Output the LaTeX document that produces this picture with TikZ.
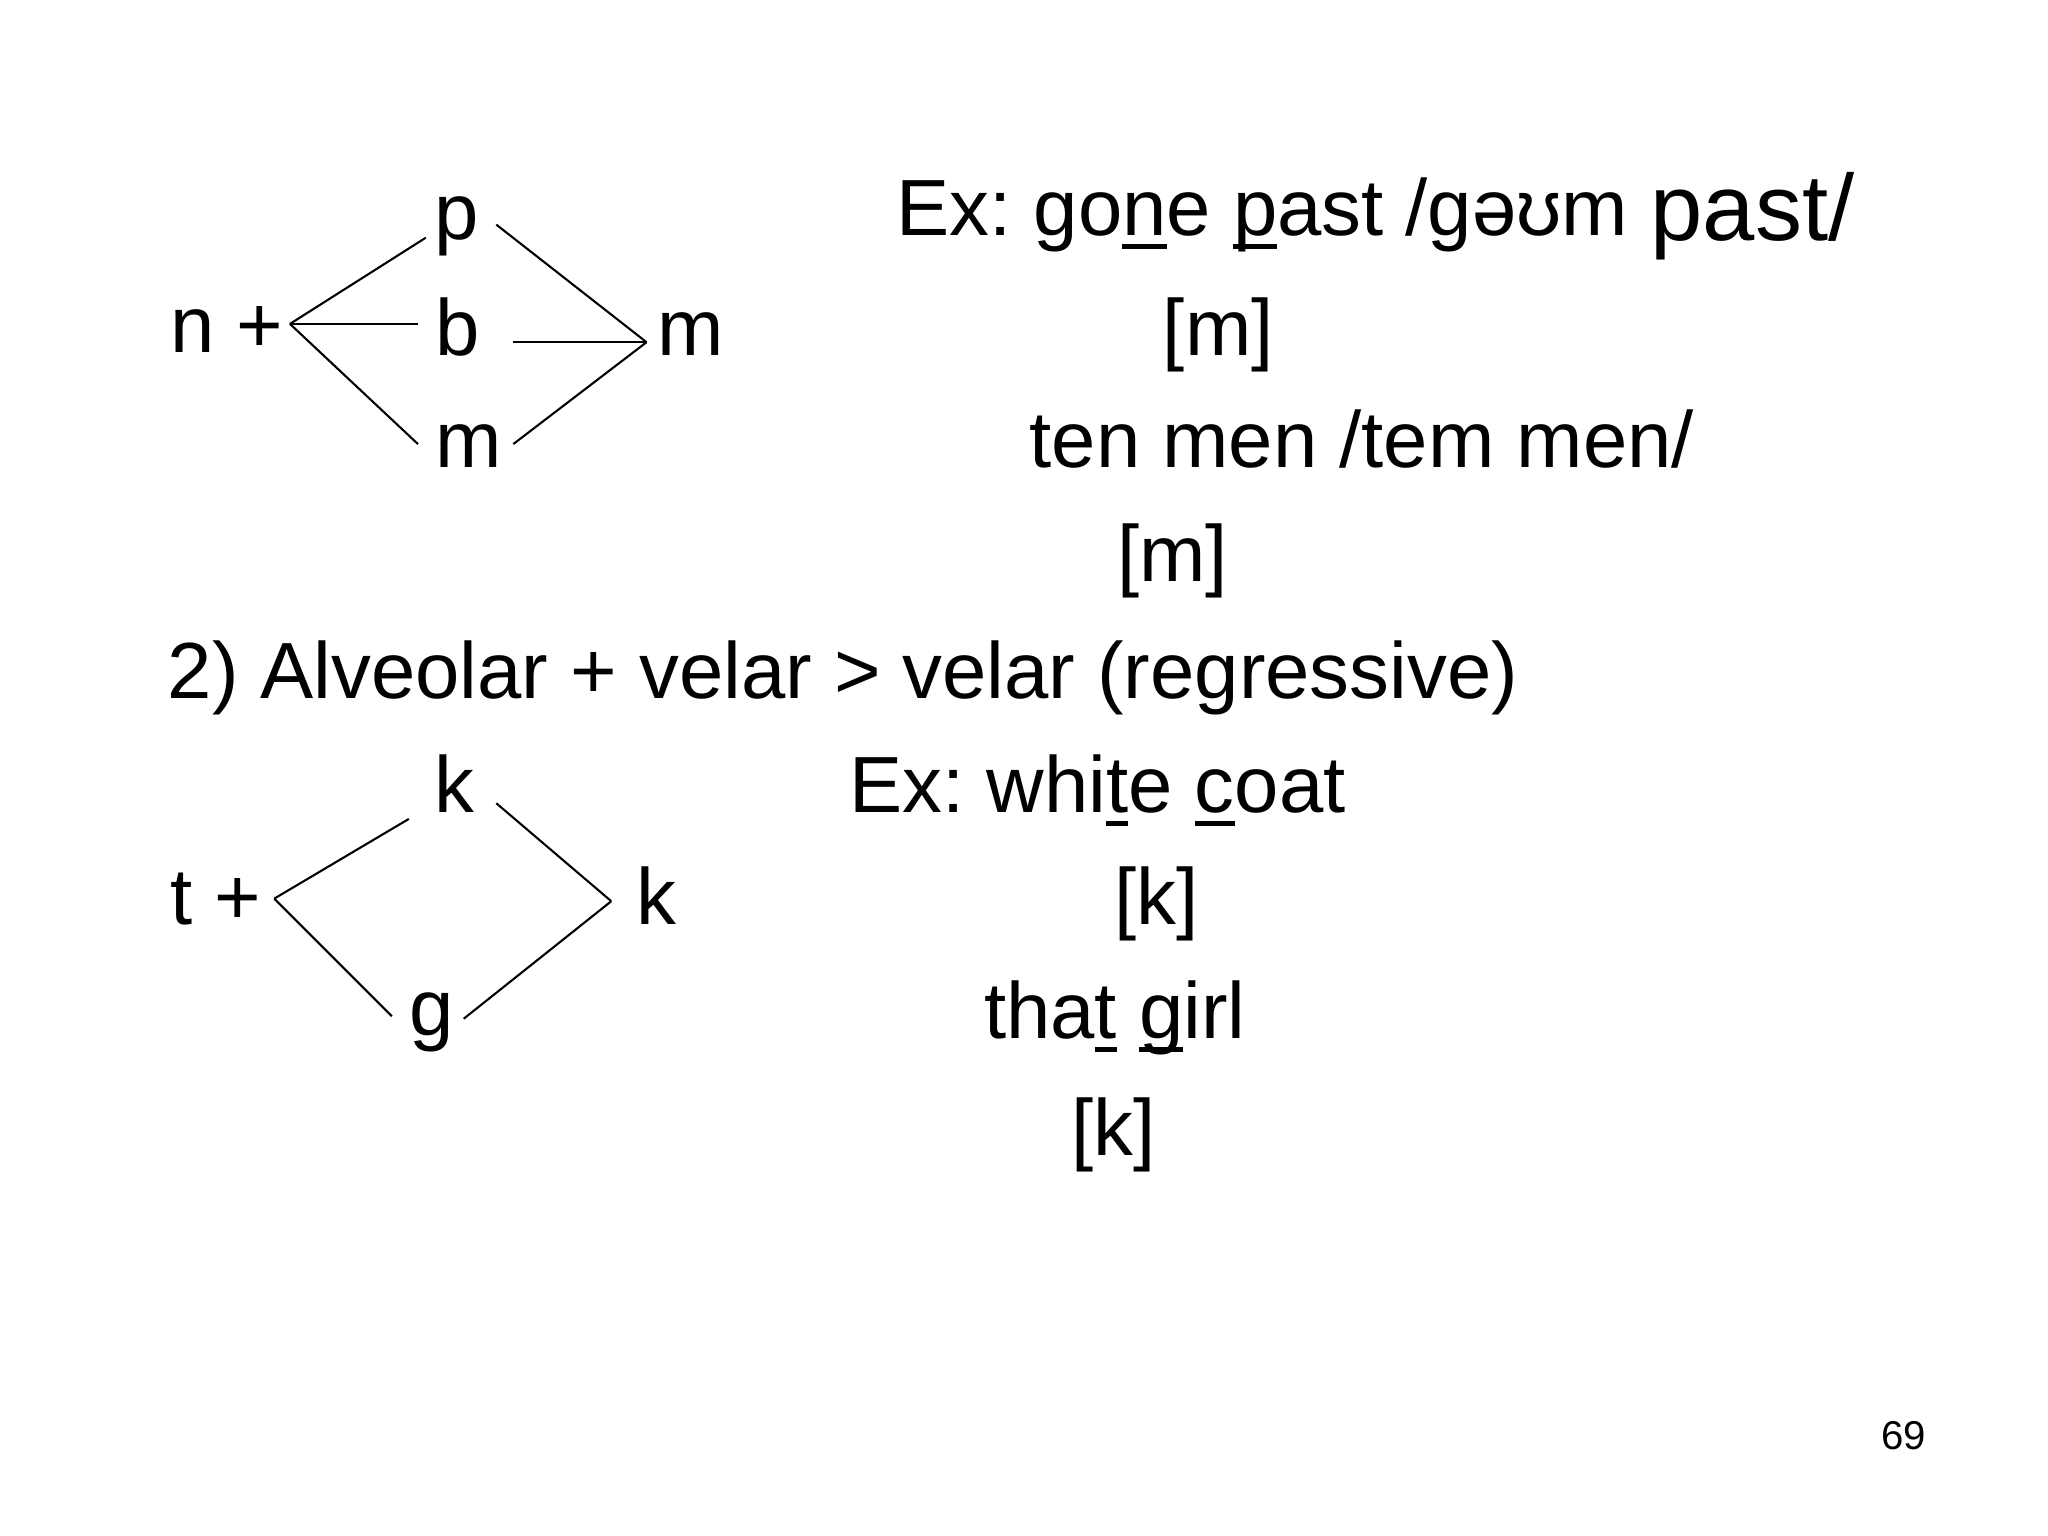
\documentclass[tikz,border=0pt]{standalone}
\usepackage{fontspec}
\setmainfont{Liberation Sans}
\frenchspacing
\newsavebox\ulbox
\newcommand\undl[1]{\sbox\ulbox{#1}\rlap{\rule[-0.17em]{\wd\ulbox}{0.06em}}\usebox\ulbox}
\tikzset{
  txt/.style={anchor=base west, inner sep=0pt, font=\fontsize{30.5}{36}\selectfont},
  small/.style={anchor=base west, inner sep=0pt, font=\fontsize{15.4}{18}\selectfont},
  link/.style={line width=0.8pt}
}
\begin{document}
\begin{tikzpicture}[x=0.5pt,y=-0.5pt]
\useasboundingbox[fill=white] (0,0) rectangle (1568,1176);
% ---- upper diagram
\node[txt] (np) at (130,270) {n +};
\node[txt] (p) at (332,183) {p};
\node[txt] (b) at (333,272) {b};
\node[txt] (m1) at (333,358) {m};
\node[txt] (m2) at (503,272) {m};
\coordinate (jl) at (222,248);
\coordinate (jr) at (495,262);
\coordinate (pin) at (326,182);
\coordinate (bin) at (320,248);
\coordinate (min) at (320,340);
\coordinate (pout) at (380,172);
\coordinate (bout) at (393,262);
\coordinate (mout) at (393,340);
\draw[link] (jl) -- (pin);
\draw[link] (jl) -- (bin);
\draw[link] (jl) -- (min);
\draw[link] (pout) -- (jr);
\draw[link] (bout) -- (jr);
\draw[link] (mout) -- (jr);
% ---- examples
\node[txt] (ex1) at (686,180) {Ex: go\undl{n}e \undl{p}ast /gəʊm \raisebox{-2pt}{\fontsize{36}{40}\selectfont past/}};
\node[txt] (r1) at (890,272) {[m]};
\node[txt] (ex2) at (788,358) {ten men /tem men/};
\node[txt] (r2) at (855,445) {[m]};
\node[txt] (head) at (128,535) {2) Alveolar + velar > velar (regressive)};
% ---- lower diagram
\node[txt] (tp) at (130,708) {t +};
\node[txt] (k1) at (332,622) {k};
\node[txt] (g) at (313,793) {g};
\node[txt] (k2) at (487,708) {k};
\coordinate (jl2) at (210,688);
\coordinate (jr2) at (468,690);
\coordinate (kin) at (313,627);
\coordinate (gin) at (300,778);
\coordinate (kout) at (380,615);
\coordinate (gout) at (355,780);
\draw[link] (jl2) -- (kin);
\draw[link] (jl2) -- (gin);
\draw[link] (kout) -- (jr2);
\draw[link] (gout) -- (jr2);
\node[txt] (ex3) at (650,622) {Ex: whi\undl{t}e \undl{c}oat};
\node[txt] (r3) at (853,708) {[k]};
\node[txt] (ex4) at (753,795) {tha\undl{t} \undl{g}irl};
\node[txt] (r4) at (820,885) {[k]};
\node[small] (pg) at (1440,1110) {69};
\end{tikzpicture}
\end{document}
